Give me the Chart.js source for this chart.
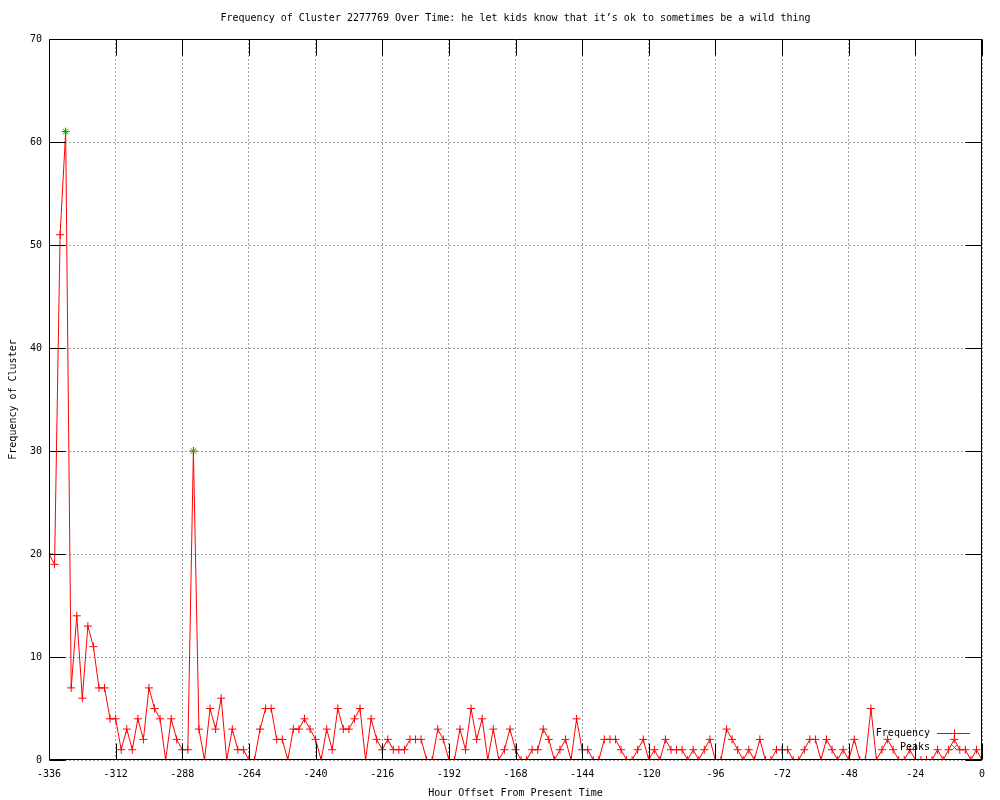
<!DOCTYPE html>
<html>
<head>
<meta charset="utf-8">
<title>Frequency of Cluster 2277769</title>
<script src="https://cdn.jsdelivr.net/npm/chart.js@4.4.0/dist/chart.umd.min.js"></script>
<style>
    html, body { margin: 0; padding: 0; background: #fff; }
    canvas { display: block; }
</style>
</head>
<body>
<canvas id="freqChart" width="1000" height="800"></canvas>
<script>
// ===== values =====
const chartTitle = 'Frequency of Cluster 2277769 Over Time: he let kids know that it\u2019s ok to sometimes be a wild thing';
const xTitle = 'Hour Offset From Present Time';
const yTitle = 'Frequency of Cluster';

const firstHour = -336;   // hour offset of the first sample
const hourStep = 2;       // one sample every two hours

// one value per sample, from -336 up to 0
const frequency = [
    20, 19, 51, 61, 7, 14, 6, 13, 11, 7, 7, 4, 4, 1, 3, 1, 4, 2, 7, 5,
    4, 0, 4, 2, 1, 1, 30, 3, 0, 5, 3, 6, 0, 3, 1, 1, 0, 0, 3, 5,
    5, 2, 2, 0, 3, 3, 4, 3, 2, 0, 3, 1, 5, 3, 3, 4, 5, 0, 4, 2,
    1, 2, 1, 1, 1, 2, 2, 2, 0, 0, 3, 2, 0, 0, 3, 1, 5, 2, 4, 0,
    3, 0, 1, 3, 1, 0, 0, 1, 1, 3, 2, 0, 1, 2, 0, 4, 1, 1, 0, 0,
    2, 2, 2, 1, 0, 0, 1, 2, 0, 1, 0, 2, 1, 1, 1, 0, 1, 0, 1, 2,
    0, 0, 3, 2, 1, 0, 1, 0, 2, 0, 0, 1, 1, 1, 0, 0, 1, 2, 2, 0,
    2, 1, 0, 1, 0, 2, 0, 0, 5, 0, 1, 2, 1, 0, 0, 1, 0, 0, 0, 0,
    1, 0, 1, 2, 1, 1, 0, 1, 0
];

const peakHours = [-330, -284];
const peakValues = [61, 30];

const monoFont = { family: "'DejaVu Sans Mono', monospace", size: 10 };

// gnuplot style frame with mirrored inward tics
const frameTics = {
    id: 'frameTics',
    afterDatasetsDraw(chart) {
        const { ctx, chartArea: a, scales: { x, y } } = chart;
        const len = 16;
        const L = Math.round(a.left) + 0.5, R = Math.round(a.right) - 0.5;
        const T = Math.round(a.top) + 0.5, B = Math.round(a.bottom) - 0.5;
        ctx.save();
        ctx.strokeStyle = '#000';
        ctx.lineWidth = 1;
        ctx.beginPath();
        x.ticks.forEach(t => {
            const px = Math.round(x.getPixelForValue(t.value)) + 0.5;
            ctx.moveTo(px, B); ctx.lineTo(px, B - len);
            ctx.moveTo(px, T); ctx.lineTo(px, T + len);
        });
        y.ticks.forEach(t => {
            const py = Math.round(y.getPixelForValue(t.value)) + 0.5;
            ctx.moveTo(L, py); ctx.lineTo(L + len, py);
            ctx.moveTo(R, py); ctx.lineTo(R - len, py);
        });
        ctx.rect(L, T, R - L, B - T);
        ctx.stroke();
        ctx.restore();
    }
};

// key in the lower right corner, inside the plot
const cornerKey = {
    id: 'cornerKey',
    afterDraw(chart) {
        const { ctx, chartArea: a } = chart;
        ctx.save();
        ctx.font = "10px 'DejaVu Sans Mono', monospace";
        ctx.textAlign = 'right';
        ctx.textBaseline = 'middle';
        chart.data.datasets.forEach((ds, i) => {
            const ky = a.bottom - 27 + i * 14;
            const mx = a.right - 28;
            ctx.fillStyle = '#000';
            ctx.fillText(ds.label, a.right - 52, ky);
            ctx.strokeStyle = ds.borderColor;
            ctx.lineWidth = 1;
            if (ds.showLine !== false) {
                ctx.beginPath();
                ctx.moveTo(a.right - 45, ky + 0.5);
                ctx.lineTo(a.right - 12, ky + 0.5);
                ctx.stroke();
            }
            Chart.helpers.drawPoint(ctx, {
                pointStyle: ds.pointStyle, radius: ds.pointRadius, borderWidth: 1, rotation: 0
            }, mx + 0.5, ky + 0.5);
        });
        ctx.restore();
    }
};

new Chart(document.getElementById('freqChart'), {
    type: 'line',
    data: {
        datasets: [
            {
                label: 'Frequency',
                data: frequency.map((v, i) => ({ x: firstHour + i * hourStep, y: v })),
                borderColor: '#ff0000',
                backgroundColor: '#ff0000',
                borderWidth: 1,
                tension: 0,
                pointStyle: 'cross',
                pointRadius: 4,
                pointBorderWidth: 1,
                order: 1
            },
            {
                label: 'Peaks',
                data: peakHours.map((h, i) => ({ x: h, y: peakValues[i] })),
                borderColor: '#00c000',
                backgroundColor: '#00c000',
                showLine: false,
                pointStyle: 'crossRot',
                pointRadius: 4,
                pointBorderWidth: 1,
                order: 0
            }
        ]
    },
    options: {
        responsive: false,
        animation: false,
        devicePixelRatio: 1,
        layout: { padding: { left: 0, right: 18, top: 0, bottom: 0 } },
        plugins: {
            legend: { display: false },
            tooltip: { enabled: false },
            title: {
                display: true,
                fullSize: false,
                text: chartTitle,
                color: '#000',
                font: { ...monoFont, weight: 'normal' },
                padding: { top: 12, bottom: 15 }
            }
        },
        scales: {
            x: {
                type: 'linear',
                min: -336,
                max: 0,
                ticks: { stepSize: 24, color: '#000', font: monoFont, padding: 8, maxRotation: 0 },
                grid: { color: '#a0a0a0', drawTicks: false },
                border: { display: false, dash: [2, 2] },
                title: { display: true, text: xTitle, color: '#000', font: monoFont, padding: { top: 0, bottom: 1 } },
                afterFit(scale) { scale.height = 40; }
            },
            y: {
                min: 0,
                max: 70,
                ticks: { stepSize: 10, color: '#000', font: monoFont, padding: 7 },
                grid: { color: '#a0a0a0', drawTicks: false },
                border: { display: false, dash: [2, 2] },
                title: { display: true, text: yTitle, color: '#000', font: monoFont, padding: { top: 7, bottom: 0 } },
                afterFit(scale) { scale.width = 49; }
            }
        }
    },
    plugins: [frameTics, cornerKey]
});
</script>
</body>
</html>
